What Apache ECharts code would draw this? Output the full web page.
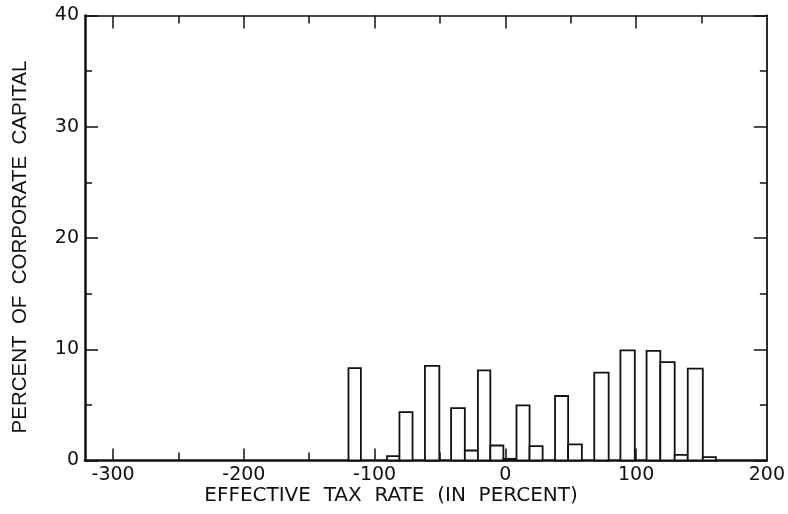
<!DOCTYPE html>
<html>
<head>
<meta charset="utf-8">
<script src="https://cdn.jsdelivr.net/npm/echarts@6/dist/echarts.min.js"></script>
<style>
  html, body { margin: 0; padding: 0; background: #fff; }
  #chart { width: 788px; height: 514px; }
</style>
</head>
<body>
<div id="chart"></div>
<script>
// Histogram bins: lower and upper edge of each effective-tax-rate class (percent)
const binLow  = [-120, -90.5, -81, -61.5, -41.5, -31, -21, -11.5, -1.5, 8.5, 18.5, 38, 48, 68, 88, 108, 118.5, 129.5, 139.5, 151];
const binHigh = [-110.5, -81, -71, -50.5, -31, -21, -11.5, -1.5, 8.5, 18.5, 28.5, 48, 58.5, 79, 99, 118.5, 129.5, 139.5, 151, 161];
// Share of corporate capital in each class (percent)
const shareOfCapital = [8.3, 0.4, 4.35, 8.5, 4.7, 0.9, 8.1, 1.35, 0.15, 4.95, 1.3, 5.8, 1.45, 7.9, 9.9, 9.85, 8.85, 0.5, 8.25, 0.3];

// Axis ticks
const xLabelTicks = [-300, -200, -100, 0, 100, 200];
const xMajorTicks = [-300, -200, -100, 0, 100];
const xMinorTicks = [-250, -150, -50, 50, 150];

const X_MIN = -321.5, X_MAX = 200;
const INK = '#111';
const numFont = 'DejaVu Sans';

const chart = echarts.init(document.getElementById('chart'), null, { renderer: 'canvas' });

function xAxisDef(position, ticks, len, showLine, lineWidth, showLabels) {
  return {
    type: 'value', position: position, min: X_MIN, max: X_MAX,
    axisLine: { show: showLine, onZero: false, lineStyle: { color: INK, width: lineWidth } },
    axisTick: { show: true, inside: true, length: len, customValues: ticks, lineStyle: { color: INK, width: 1.5 } },
    axisLabel: showLabels ? {
      show: true, customValues: xLabelTicks, margin: 5, color: INK,
      fontFamily: numFont, fontSize: 19
    } : { show: false },
    splitLine: { show: false }
  };
}

function yAxisDef(position, lineWidth, showLabels) {
  return {
    type: 'value', position: position, min: 0, max: 40, interval: 10,
    axisLine: { show: true, onZero: false, lineStyle: { color: INK, width: lineWidth } },
    axisTick: { show: true, inside: true, length: 13, lineStyle: { color: INK, width: 1.5 } },
    minorTick: { show: true, splitNumber: 2, length: 7, lineStyle: { color: INK, width: 1.5 } },
    axisLabel: showLabels ? { show: true, margin: 6, color: INK, fontFamily: numFont, fontSize: 19 } : { show: false },
    splitLine: { show: false },
    minorSplitLine: { show: false }
  };
}

const option = {
  backgroundColor: '#fff',
  animation: false,
  grid: { left: 85, right: 17.5, top: 15.5, bottom: 53.5, containLabel: false },
  xAxis: [
    xAxisDef('bottom', xMajorTicks, 12, true, 2.5, true),
    xAxisDef('bottom', xMinorTicks, 8, false, 1, false),
    xAxisDef('top', xMajorTicks, 13, true, 1.6, false),
    xAxisDef('top', xMinorTicks, 8, false, 1, false)
  ],
  yAxis: [
    yAxisDef('left', 2.5, true),
    yAxisDef('right', 1.8, false)
  ],
  graphic: [
    {
      type: 'text', x: 391, y: 496,
      style: {
        text: 'EFFECTIVE  TAX  RATE  (IN  PERCENT)',
        fill: INK, font: '20px "DejaVu Sans"',
        textAlign: 'center', textVerticalAlign: 'middle'
      }
    },
    {
      type: 'text', x: 20, y: 247, rotation: Math.PI / 2,
      style: {
        text: 'PERCENT  OF  CORPORATE  CAPITAL',
        fill: INK, font: '20.5px "Liberation Sans"',
        textAlign: 'center', textVerticalAlign: 'middle'
      }
    }
  ],
  series: [
    {
      type: 'custom',
      xAxisIndex: 0, yAxisIndex: 0,
      data: binLow.map((lo, i) => [lo, binHigh[i], shareOfCapital[i]]),
      encode: { x: [0, 1], y: 2 },
      renderItem: function (params, api) {
        const topLeft = api.coord([api.value(0), api.value(2)]);
        const bottomRight = api.coord([api.value(1), 0]);
        return {
          type: 'rect',
          shape: {
            x: topLeft[0], y: topLeft[1],
            width: bottomRight[0] - topLeft[0],
            height: bottomRight[1] - topLeft[1]
          },
          style: { fill: '#fff', stroke: INK, lineWidth: 1.8 }
        };
      }
    }
  ]
};

chart.setOption(option);
</script>
</body>
</html>
